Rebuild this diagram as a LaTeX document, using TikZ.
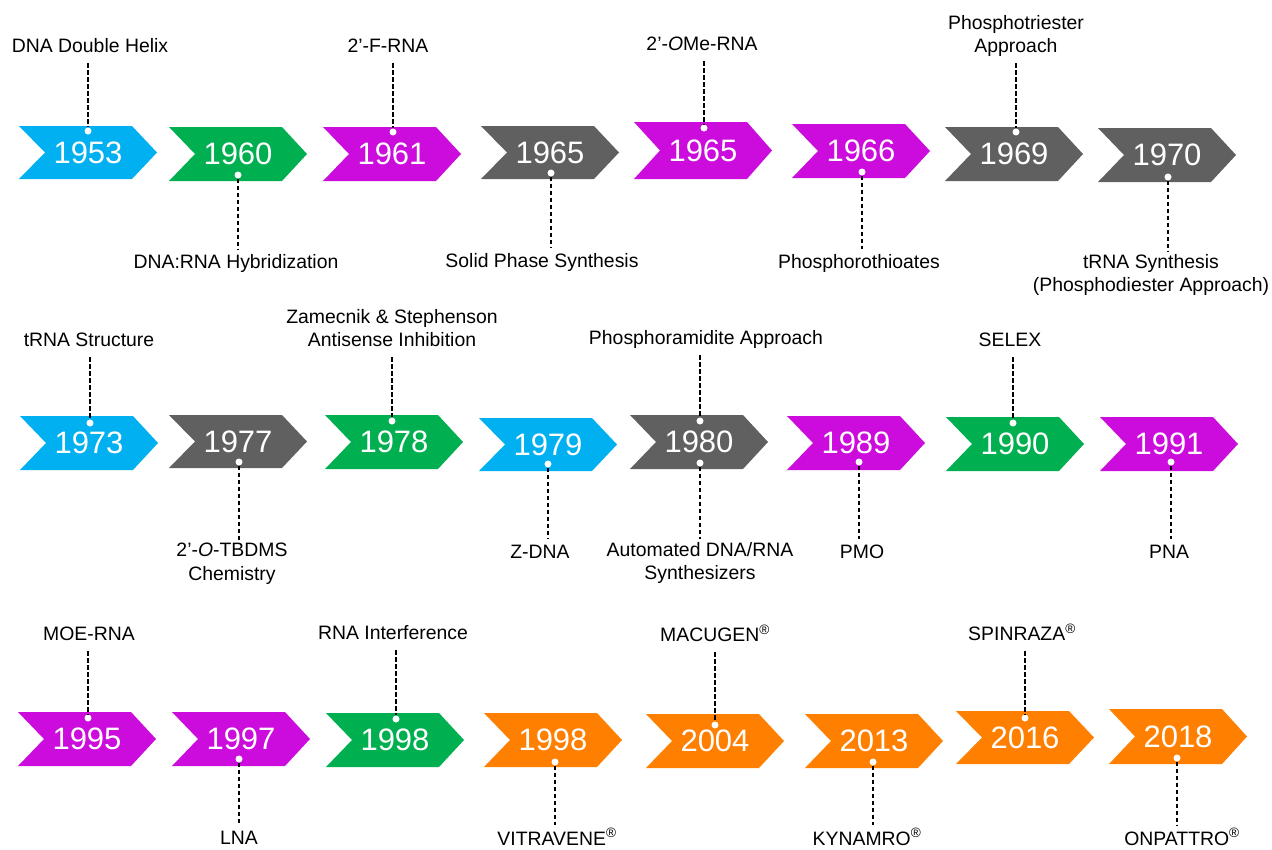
\documentclass[tikz,border=0pt]{standalone}
\usepackage{fontspec}
\setmainfont{Liberation Sans}
\definecolor{cblue}{HTML}{00B0F0}
\definecolor{cgreen}{HTML}{00B050}
\definecolor{cmag}{HTML}{CC0CDC}
\definecolor{cgrey}{HTML}{606060}
\definecolor{corange}{HTML}{FF7F00}
\tikzset{
  yearlbl/.style={text=white, inner sep=0pt, font=\fontsize{31}{36}\selectfont},
  wdot/.style={circle, fill=white, inner sep=0pt, minimum size=7pt},
  lab/.style={align=center, inner sep=3pt, font=\fontsize{19.4}{23.5}\selectfont,
    execute at begin node=\strut, execute at end node=\strut},
  conn/.style={line width=2pt, dash pattern=on 4.5pt off 2.5pt, black},
}
\newcommand{\chevron}[6]{%
  \fill[#5] (#2,#3) -- (#2+113,#3) -- (#2+138,{(#3+#4)/2}) -- (#2+113,#4) -- (#2,#4) -- (#2+26,{(#3+#4)/2}) -- cycle;
  \node[yearlbl] (#1) at ({#2+69},{(#3+#4)/2}) {#6};
}
\newcommand{\reg}{\textsuperscript{®}}
\begin{document}
\begin{tikzpicture}[x=1pt,y=-1pt]
\useasboundingbox (0,0) rectangle (1272,849);
% ---------- Row 1 ----------
\chevron{c1}{19}{126}{179}{cblue}{1953}
\chevron{c2}{169}{127}{181}{cgreen}{1960}
\chevron{c3}{323}{127}{181}{cmag}{1961}
\chevron{c4}{481}{126}{179}{cgrey}{1965}
\chevron{c5}{634}{122}{179}{cmag}{1965}
\chevron{c6}{792}{124}{178}{cmag}{1966}
\chevron{c7}{945}{127}{181}{cgrey}{1969}
\chevron{c8}{1098}{128}{182}{cgrey}{1970}
\node[wdot] (d1) at (88,131) {};
\node[wdot] (d2) at (238,175) {};
\node[wdot] (d3) at (393,132) {};
\node[wdot] (d4) at (551,173) {};
\node[wdot] (d5) at (704,128) {};
\node[wdot] (d6) at (862,172) {};
\node[wdot] (d7) at (1016,132) {};
\node[wdot] (d8) at (1168,177) {};
\node[lab,anchor=south] (l1) at (90,63) {DNA Double Helix};
\node[lab,anchor=north] (l2) at (236,249) {DNA:RNA Hybridization};
\node[lab,anchor=south] (l3) at (388,63) {2’-F-RNA};
\node[lab,anchor=north] (l4) at (542,248) {Solid Phase Synthesis};
\node[lab,anchor=south] (l5) at (702,61) {2’-\textit{O}Me-RNA};
\node[lab,anchor=north] (l6) at (859,249) {Phosphorothioates};
\node[lab,anchor=south] (l7) at (1016,63) {Phosphotriester\\Approach};
\node[lab,anchor=north] (l8) at (1151,251) {tRNA Synthesis\\(Phosphodiester Approach)};
% ---------- Row 2 ----------
\chevron{c9}{20}{416}{470}{cblue}{1973}
\chevron{c10}{169}{415}{468}{cgrey}{1977}
\chevron{c11}{325}{415}{469}{cgreen}{1978}
\chevron{c12}{479}{418}{471}{cblue}{1979}
\chevron{c13}{630}{415}{469}{cgrey}{1980}
\chevron{c14}{787}{416}{470}{cmag}{1989}
\chevron{c15}{946}{417}{471}{cgreen}{1990}
\chevron{c16}{1100}{417}{471}{cmag}{1991}
\node[wdot] (d9) at (90,423) {};
\node[wdot] (d10) at (239,462) {};
\node[wdot] (d11) at (392,421) {};
\node[wdot] (d12) at (548,464) {};
\node[wdot] (d13a) at (700,421) {};
\node[wdot] (d13b) at (700,463) {};
\node[wdot] (d14) at (859,462) {};
\node[wdot] (d15) at (1013,423) {};
\node[wdot] (d16) at (1171,462) {};
\node[lab,anchor=south] (l9) at (89,357) {tRNA Structure};
\node[lab,anchor=north] (l10) at (232,540) {2’-\textit{O}-TBDMS\\Chemistry};
\node[lab,anchor=south] (l11) at (392,357) {Zamecnik \& Stephenson\\Antisense Inhibition};
\node[lab,anchor=north] (l12) at (540,539) {Z-DNA};
\node[lab,anchor=south] (l13a) at (706,355) {Phosphoramidite Approach};
\node[lab,anchor=north] (l13b) at (700,539) {Automated DNA/RNA\\Synthesizers};
\node[lab,anchor=north] (l14) at (862,539) {PMO};
\node[lab,anchor=south] (l15) at (1010,357) {SELEX};
\node[lab,anchor=north] (l16) at (1169,539) {PNA};
% ---------- Row 3 ----------
\chevron{c17}{18}{712}{766}{cmag}{1995}
\chevron{c18}{172}{712}{766}{cmag}{1997}
\chevron{c19}{326}{713}{767}{cgreen}{1998}
\chevron{c20}{484}{713}{767}{corange}{1998}
\chevron{c21}{646}{714}{768}{corange}{2004}
\chevron{c22}{805}{714}{768}{corange}{2013}
\chevron{c23}{956}{711}{764}{corange}{2016}
\chevron{c24}{1109}{709}{764}{corange}{2018}
\node[wdot] (d17) at (88,718) {};
\node[wdot] (d18) at (239,759) {};
\node[wdot] (d19) at (396,719) {};
\node[wdot] (d20) at (555,762) {};
\node[wdot] (d21) at (715,725) {};
\node[wdot] (d22) at (873,762) {};
\node[wdot] (d23) at (1025,718) {};
\node[wdot] (d24) at (1177,758) {};
\node[lab,anchor=south] (l17) at (89,651) {MOE-RNA};
\node[lab,anchor=north] (l18) at (239,825) {LNA};
\node[lab,anchor=south] (l19) at (393,650) {RNA Interference};
\node[lab,anchor=north] (l20) at (557,825) {VITRAVENE\reg};
\node[lab,anchor=south] (l21) at (715,652) {MACUGEN\reg};
\node[lab,anchor=north] (l22) at (867,825) {KYNAMRO\reg};
\node[lab,anchor=south] (l23) at (1022,651) {SPINRAZA\reg};
\node[lab,anchor=north] (l24) at (1182,825) {ONPATTRO\reg};
% ---------- connectors ----------
\foreach \d/\l in {d1/l1,d3/l3,d5/l5,d7/l7,d9/l9,d11/l11,d13a/l13a,d15/l15,d17/l17,d19/l19,d21/l21,d23/l23}
  \draw[conn] (\d |- \l.south) -- (\d.north);
\foreach \d/\l in {d2/l2,d4/l4,d6/l6,d8/l8,d10/l10,d12/l12,d13b/l13b,d14/l14,d16/l16,d18/l18,d20/l20,d22/l22,d24/l24}
  \draw[conn] (\d.south) -- (\d |- \l.north);
\end{tikzpicture}
\end{document}
